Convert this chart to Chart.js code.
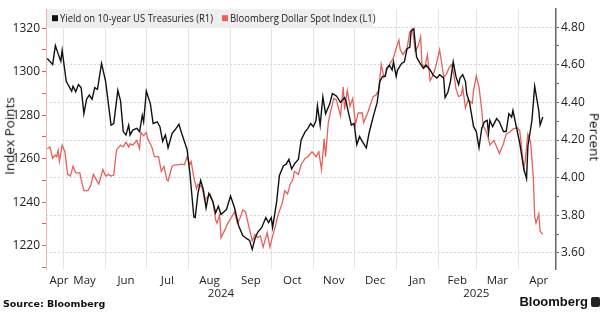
<!DOCTYPE html>
<html><head><meta charset="utf-8">
<script src="https://cdn.jsdelivr.net/npm/chart.js@4.4.1/dist/chart.umd.min.js"></script>
<style>
html,body{margin:0;padding:0;background:#fff;}
#wrap{position:relative;width:605px;height:325px;overflow:hidden;font-family:"Open Sans",sans-serif;}
canvas{position:absolute;left:0;top:0;}
.t{position:absolute;color:#111;white-space:nowrap;line-height:1;}
#ytl{left:10px;top:136px;font-size:13.5px;transform:translate(-50%,-50%) rotate(-90deg);}
#ytr{left:594px;top:137px;font-size:13.5px;transform:translate(-50%,-50%) rotate(90deg);}
#src{left:3px;top:299px;font-size:9.5px;font-weight:700;font-family:"DejaVu Sans",sans-serif;}
#logo{right:5px;top:295px;font-size:13px;font-weight:700;font-family:"Liberation Sans",sans-serif;color:#111;}
#logo .ic{display:inline-block;width:9px;height:10px;background:#222;border-radius:2px;vertical-align:-1px;margin-left:3px;}
</style></head><body>
<div id="wrap"><canvas id="c" width="605" height="325"></canvas>
<div class="t" id="ytl">Index Points</div>
<div class="t" id="ytr">Percent</div>
<div class="t" id="src">Source: Bloomberg</div>
<div class="t" id="logo">Bloomberg<span class="ic"></span></div>
</div>
<script>
// x values: days since 19 Apr 2024
const seriesNames = ['Yield on 10-year US Treasuries (R1)', 'Bloomberg Dollar Spot Index (L1)'];

const yieldDays = [0,4,6,8,10,11,14,18,19,21,
23,25,27,29,31,33,35,37,40,43,
47,49,52,54,56,58,60,61,63,66,
68,70,71,73,76,78,81,83,85,87,
89,92,94,97,99,103,105,108,109,111,
113,115,117,119,122,124,126,128,132,135,
138,141,144,147,149,151,153,155,158,161,
163,165,166,169,171,174,176,178,180,182,
185,187,190,192,194,196,198,199,201,203,
205,208,210,213,216,219,220,222,224,226,
228,230,232,235,237,240,243,245,247,249,
250,252,254,255,257,258,261,263,265,267,
268,270,272,274,277,279,282,284,287,289,
292,293,295,297,299,301,303,304,306,308,
309,311,314,316,318,320,322,324,325,326,
328,331,333,336,338,340,342,343,346,348,
351,353,354,357,359,362,363,365];
const yieldValues = [4.633,4.602,4.702,4.659,4.619,4.676,4.512,4.460,4.486,4.457,
4.495,4.478,4.340,4.417,4.439,4.417,4.478,4.469,4.607,4.512,
4.279,4.288,4.464,4.408,4.245,4.227,4.279,4.227,4.253,4.262,
4.245,4.331,4.297,4.460,4.391,4.288,4.297,4.271,4.193,4.227,
4.159,4.236,4.253,4.284,4.236,4.150,4.029,3.791,3.788,3.917,
3.986,3.935,3.839,3.917,3.874,3.813,3.848,3.805,3.831,3.903,
3.839,3.745,3.693,3.676,3.667,3.619,3.676,3.710,3.736,3.788,
3.762,3.788,3.736,3.874,4.012,4.064,4.072,4.098,4.046,4.072,
4.098,4.201,4.245,4.262,4.288,4.271,4.305,4.383,4.279,4.429,
4.340,4.391,4.447,4.434,4.400,4.426,4.408,4.340,4.279,4.288,
4.176,4.219,4.193,4.159,4.236,4.322,4.400,4.512,4.538,4.538,
4.581,4.598,4.572,4.615,4.538,4.572,4.607,4.615,4.685,4.693,
4.779,4.791,4.641,4.615,4.581,4.598,4.572,4.547,4.529,4.547,
4.529,4.426,4.452,4.512,4.615,4.538,4.495,4.529,4.547,4.512,
4.443,4.400,4.271,4.245,4.159,4.262,4.297,4.305,4.236,4.305,
4.271,4.314,4.297,4.245,4.245,4.340,4.322,4.357,4.253,4.184,
4.046,3.995,4.167,4.305,4.486,4.357,4.279,4.322];

const dollarDays = [0,2,4,6,7,8,9,11,13,15,
17,19,21,24,25,27,30,32,34,36,
38,41,43,45,47,49,51,54,56,58,
60,61,63,66,68,69,71,73,74,77,
79,82,84,86,88,89,92,94,96,99,
101,103,105,106,108,110,111,114,116,118,
120,122,124,125,127,128,131,133,136,138,
140,142,144,146,149,151,153,155,157,159,
162,164,166,168,170,173,175,177,179,181,
182,185,187,190,192,195,198,200,202,204,
205,207,209,211,213,216,218,219,221,223,
225,227,229,232,233,236,240,242,244,246,
248,250,252,255,257,259,260,262,265,267,
269,271,273,275,276,278,280,282,284,286,
289,291,292,294,296,298,300,301,303,305,
306,308,310,313,314,316,318,320,321,323,
325,326,329,331,333,336,338,341,343,346,
348,351,352,354,356,358,359,360,362,363,365];
const dollarValues = [1264.6,1265.4,1260.2,1261.7,1260.9,1263.9,1258.7,1266.2,1263.2,1252.8,
1252.0,1256.5,1253.5,1253.5,1250.5,1245.3,1245.3,1247.5,1252.8,1250.5,
1248.3,1255.0,1252.0,1252.8,1252.0,1252.5,1263.9,1266.2,1265.4,1267.6,
1265.4,1266.9,1266.2,1268.4,1264.6,1272.1,1270.6,1272.1,1269.1,1265.4,
1260.9,1260.9,1254.2,1256.5,1250.5,1249.8,1256.5,1257.2,1257.2,1257.5,
1257.2,1260.9,1257.2,1258.7,1251.2,1246.1,1248.3,1246.8,1240.8,1242.3,
1243.8,1240.1,1231.9,1230.4,1234.2,1223.7,1227.5,1230.4,1233.4,1235.6,
1230.4,1232.7,1236.4,1235.6,1227.5,1222.2,1225.2,1223.7,1224.5,1219.3,
1226.0,1219.3,1224.5,1228.9,1234.2,1239.4,1245.3,1243.8,1248.3,1250.5,
1254.2,1252.8,1257.2,1260.2,1260.9,1263.2,1260.9,1263.2,1255.0,1269.1,
1260.9,1276.6,1282.5,1287.7,1287.0,1279.6,1292.9,1282.5,1291.4,1284.0,
1287.7,1275.8,1281.0,1281.0,1276.6,1281.0,1288.5,1289.2,1291.4,1303.3,
1297.4,1300.4,1303.3,1306.3,1310.8,1314.5,1310.0,1307.8,1310.8,1318.2,
1319.7,1309.3,1311.5,1316.0,1303.3,1301.9,1307.8,1295.9,1298.1,1301.9,
1310.0,1301.9,1297.4,1298.9,1301.9,1303.3,1296.7,1292.2,1288.5,1289.2,
1292.9,1283.3,1287.0,1285.5,1291.4,1298.1,1292.9,1282.5,1275.1,1272.9,
1269.1,1266.2,1268.4,1265.4,1262.4,1266.9,1271.3,1272.4,1273.6,1274.3,
1272.9,1255.5,1259.0,1271.3,1267.6,1251.2,1233.4,1230.4,1234.6,1226.7,1225.2];

const monthStartDays = [12,43,73,104,135,165,196,226,257,288,316,347];
const monthLabelDays = [8.7,27.5,58,88.5,119.5,150,180.5,211,241.5,272.5,302,331.5,362];
const monthLabels = ['Apr','May','Jun','Jul','Aug','Sep','Oct','Nov','Dec','Jan','Feb','Mar','Apr'];
const yearLabelDays = [128,316];
const yearLabels = ['2024','2025'];

const leftMajor = [1220,1240,1260,1280,1300,1320];
const leftMinor = [1210,1230,1250,1270,1290,1310];
const rightMajor = [3.6,3.8,4.0,4.2,4.4,4.6,4.8];
const rightMinor = [3.7,3.9,4.1,4.3,4.5,4.7];

const X_MIN = -0.9, X_MAX = 374.7;
const BLACK = '#111111', RED = '#e5615b';
const FONT = '"Open Sans", sans-serif';

const toPts = (xs, ys) => xs.map((d, i) => ({x: d, y: ys[i]}));

const boxLegend = {
  id: 'boxLegend',
  afterDraw(chart) {
    const ctx = chart.ctx;
    const ca = chart.chartArea;
    ctx.save();
    ctx.fillStyle = '#eeeeee';
    ctx.fillRect(ca.left + 1, ca.top, 326, 19);
    ctx.font = '10.5px ' + FONT;
    const w0 = ctx.measureText(chart.data.datasets[0].label).width;
    const sx = 153 / w0;
    let x = ca.left + 6;
    chart.data.datasets.forEach((ds) => {
      ctx.fillStyle = ds.borderColor;
      ctx.fillRect(x, ca.top + 6, 6, 6);
      x += 8;
      ctx.fillStyle = '#1a1a1a';
      ctx.textBaseline = 'middle';
      ctx.save();
      ctx.translate(x, ca.top + 9.5);
      ctx.scale(sx, 1);
      ctx.fillText(ds.label, 0, 0);
      ctx.restore();
      x += ctx.measureText(ds.label).width * sx + 9;
    });
    ctx.restore();
  }
};

new Chart(document.getElementById('c'), {
  type: 'line',
  data: {
    datasets: [
      {label: seriesNames[0], data: toPts(yieldDays, yieldValues), yAxisID: 'y2', xAxisID: 'x',
       borderColor: BLACK, backgroundColor: BLACK, borderWidth: 1.4, pointRadius: 0, tension: 0},
      {label: seriesNames[1], data: toPts(dollarDays, dollarValues), yAxisID: 'y', xAxisID: 'x',
       borderColor: RED, backgroundColor: RED, borderWidth: 1.3, pointRadius: 0, tension: 0}
    ]
  },
  options: {
    responsive: false,
    animation: false,
    events: [],
    layout: {padding: {top: 3, bottom: 24, left: 0, right: 0}},
    plugins: {legend: {display: false}, tooltip: {enabled: false}},
    scales: {
      x: {
        type: 'linear', position: 'bottom', min: X_MIN, max: X_MAX, weight: 0,
        afterBuildTicks: s => { s.ticks = monthStartDays.map(v => ({value: v})); },
        ticks: {display: false},
        grid: {color: '#e4e4e4', lineWidth: 1, drawTicks: false},
        border: {display: false},
        afterFit: s => { s.height = 0; }
      },
      x2: {
        type: 'linear', position: 'bottom', min: X_MIN, max: X_MAX, weight: 1,
        afterBuildTicks: s => { s.ticks = monthLabelDays.map(v => ({value: v})); },
        ticks: {autoSkip: false, maxRotation: 0, padding: 5, color: '#222', font: {family: FONT, size: 11.5},
                callback: (v, i) => monthLabels[i]},
        grid: {display: false, drawTicks: false},
        border: {display: false},
        afterFit: s => { s.height = 18; }
      },
      x3: {
        type: 'linear', position: 'bottom', min: X_MIN, max: X_MAX, weight: 2,
        afterBuildTicks: s => { s.ticks = yearLabelDays.map(v => ({value: v})); },
        ticks: {autoSkip: false, maxRotation: 0, padding: 0, color: '#222', font: {family: FONT, size: 11.5},
                callback: (v, i) => yearLabels[i]},
        grid: {display: false, drawTicks: false},
        border: {display: false},
        afterFit: s => { s.height = 14; }
      },
      y: {
        position: 'left', min: 1209.3, max: 1328.7,
        afterBuildTicks: s => { s.ticks = leftMajor.concat(leftMinor).sort((a,b)=>a-b).map(v => ({value: v})); },
        ticks: {autoSkip: false, padding: 2, color: '#222', font: {family: FONT, size: 12},
                callback: v => leftMajor.includes(v) ? String(v) : ''},
        grid: {drawOnChartArea: false, tickLength: 4, tickColor: '#e0605a', tickWidth: 1},
        border: {color: '#f2b3b0', width: 1},
        afterFit: s => { s.width = 46; }
      },
      y2: {
        position: 'right', min: 3.515, max: 4.895,
        afterBuildTicks: s => { s.ticks = rightMajor.concat(rightMinor).sort((a,b)=>a-b).map(v => ({value: v})); },
        ticks: {autoSkip: false, padding: 2, color: '#222', font: {family: FONT, size: 12},
                callback: v => rightMajor.some(m => Math.abs(m - v) < 1e-6) ? v.toFixed(2) : ''},
        grid: {
          drawOnChartArea: true, tickLength: 3, tickColor: '#666', tickWidth: 1, lineWidth: 1,
          color: c => (c.tick && rightMajor.some(m => Math.abs(m - c.tick.value) < 1e-6)) ? '#d6d6d6' : 'rgba(0,0,0,0)'
        },
        border: {color: '#666', width: 1.5, dash: [2, 2]},
        afterFit: s => { s.width = 49; }
      }
    }
  },
  plugins: [boxLegend]
});
</script>
</body></html>
